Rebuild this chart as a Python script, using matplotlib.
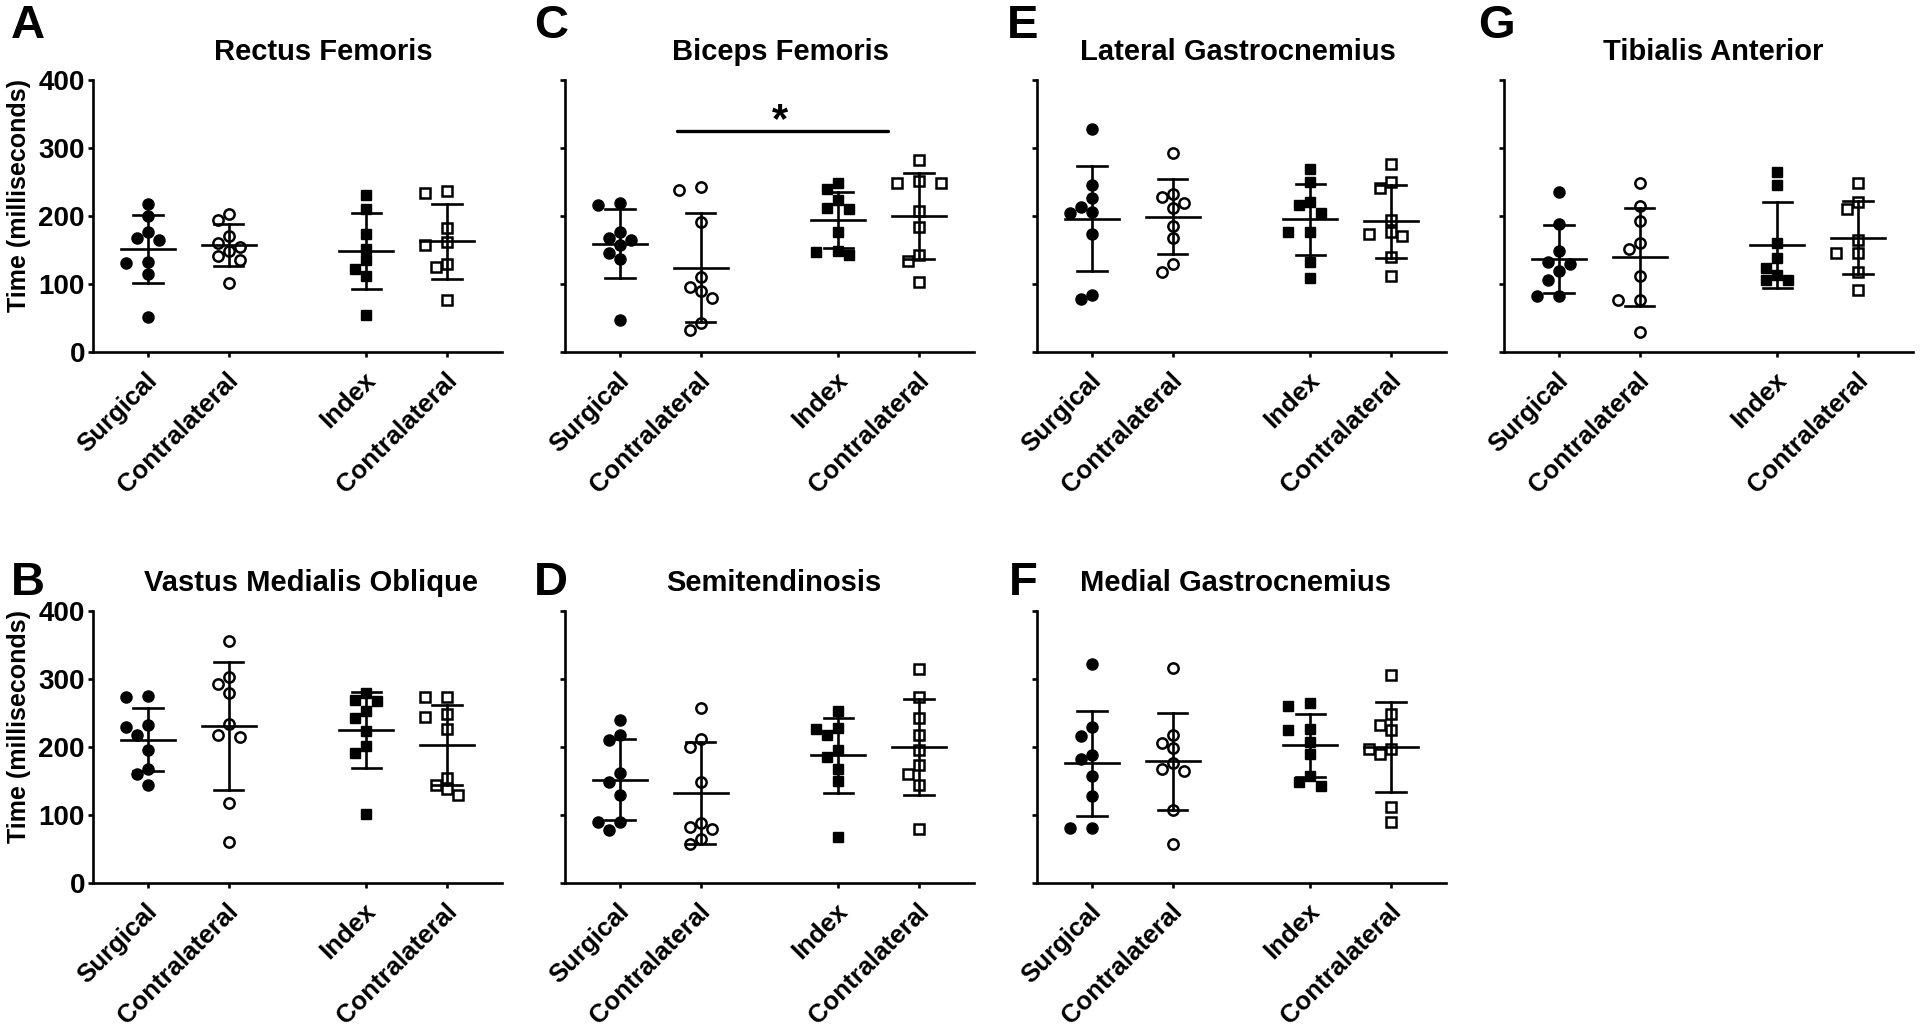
import numpy as np
import matplotlib
matplotlib.use('Agg')
import matplotlib.pyplot as plt
import matplotlib.transforms as mtransforms

plt.rcParams['font.family'] = ['Liberation Sans', 'DejaVu Sans']
plt.rcParams['font.weight'] = 'bold'

################################################
# data (milliseconds)
################################################
groups = ["Surgical", "Contralateral", "Index", "Contralateral"]

# A - Rectus Femoris
rf_surgical = [218, 200, 176, 165, 167, 131, 133, 114, 52]
rf_contra = [203, 194, 170, 160, 149, 155, 136, 141, 101]
rf_index = [231, 211, 174, 152, 135, 122, 112, 55]
rf_index_contra = [234, 237, 183, 162, 158, 130, 125, 77]
rf_mean = [151, 157, 149, 163]
rf_sd = [50, 31, 56, 55]

# B - Vastus Medialis Oblique
vmo_surgical = [273, 275, 232, 229, 217, 195, 168, 160, 144]
vmo_contra = [356, 292, 303, 280, 234, 214, 218, 118, 61]
vmo_index = [280, 269, 253, 267, 242, 224, 201, 191, 101]
vmo_index_contra = [274, 273, 248, 244, 226, 155, 144, 138, 130]
vmo_mean = [211, 231, 225, 203]
vmo_sd = [46.5, 93.5, 56.5, 58.5]

# C - Biceps Femoris
bf_surgical = [219, 216, 176, 167, 164, 157, 146, 137, 47]
bf_contra = [238, 242, 191, 111, 95, 89, 80, 42, 32]
bf_index = [249, 239, 223, 211, 212, 177, 143, 147, 148]
bf_index_contra = [283, 249, 248, 252, 207, 184, 143, 134, 103]
bf_mean = [159.5, 124, 194, 200]
bf_sd = [51, 80, 41.5, 63]

# D - Semitendinosis
st_surgical = [240, 217, 210, 162, 148, 130, 89, 89, 78]
st_contra = [257, 212, 200, 149, 88, 82, 80, 64, 58]
st_index = [253, 226, 228, 217, 195, 185, 167, 150, 68]
st_index_contra = [314, 274, 242, 217, 196, 173, 161, 144, 80]
st_mean = [152, 132.5, 188, 200]
st_sd = [60, 74.5, 55, 71]

# E - Lateral Gastrocnemius
lg_surgical = [328, 245, 226, 213, 205, 206, 173, 84, 78]
lg_contra = [293, 228, 233, 212, 219, 185, 168, 130, 118]
lg_index = [269, 250, 221, 216, 205, 177, 177, 133, 109]
lg_index_contra = [277, 250, 241, 194, 177, 173, 170, 139, 112]
lg_mean = [196, 199, 195, 192]
lg_sd = [77.5, 55, 52.5, 54]

# F - Medial Gastrocnemius
mg_surgical = [322, 230, 216, 188, 183, 157, 128, 81, 81]
mg_contra = [316, 217, 206, 198, 177, 164, 168, 107, 58]
mg_index = [260, 264, 225, 226, 208, 189, 158, 142, 148]
mg_index_contra = [306, 248, 232, 225, 197, 197, 189, 112, 90]
mg_mean = [176, 179, 202.5, 200]
mg_sd = [77, 71.5, 46, 66]

# G - Tibialis Anterior
ta_surgical = [236, 188, 148, 129, 133, 119, 106, 83, 83]
ta_contra = [248, 215, 192, 152, 160, 112, 77, 77, 30]
ta_index = [264, 245, 160, 138, 124, 113, 106, 106]
ta_index_contra = [248, 220, 210, 164, 146, 146, 117, 91]
ta_mean = [137, 140, 157, 168]
ta_sd = [50, 72, 63.5, 53.5]

# significance bar in Biceps Femoris panel
bf_sig_text = "*"

################################################
# layout (pixels of the 1920x1027 output)
################################################
W, H = 1920, 1027
fig = plt.figure(figsize=(W / 100, H / 100), dpi=100)

col_left = [93, 565, 1037, 1504]
ax_w = 409
row_top = [80, 611]
ax_h = 272

xpos = [1, 2, 3.7, 4.7]
xlim = (0.32, 5.38)
ylim = (0, 400)
px_per_x = ax_w / (xlim[1] - xlim[0])
px_per_y = ax_h / (ylim[1] - ylim[0])

markers = [
    dict(marker='o', markersize=8.0, markerfacecolor='black', markeredgecolor='black', markeredgewidth=1),
    dict(marker='o', markersize=7.4, markerfacecolor='none', markeredgecolor='black', markeredgewidth=1.8),
    dict(marker='s', markersize=7.8, markerfacecolor='black', markeredgecolor='black', markeredgewidth=1),
    dict(marker='s', markersize=7.4, markerfacecolor='none', markeredgecolor='black', markeredgewidth=1.8),
]


def swarm_offsets(vals, step_px=11.0, min_px=11.5):
    # simple beeswarm, like the column scatter of prism
    vals = np.asarray(vals, dtype=float)
    order = np.argsort(-vals, kind='stable')
    placed = []
    offs = np.zeros(len(vals))
    cand = [0, -1, 1, -2, 2, -3, 3, -4, 4]
    for i in order:
        y = vals[i] * px_per_y
        x = 0.0
        for c in cand:
            x = c * step_px
            if all((x - px) ** 2 + (y - py) ** 2 >= min_px ** 2 for px, py in placed):
                break
        placed.append((x, y))
        offs[i] = x / px_per_x
    return offs


panels = [
    ("A", "Rectus Femoris", 0, 0, [rf_surgical, rf_contra, rf_index, rf_index_contra], rf_mean, rf_sd),
    ("B", "Vastus Medialis Oblique", 0, 1, [vmo_surgical, vmo_contra, vmo_index, vmo_index_contra], vmo_mean, vmo_sd),
    ("C", "Biceps Femoris", 1, 0, [bf_surgical, bf_contra, bf_index, bf_index_contra], bf_mean, bf_sd),
    ("D", "Semitendinosis", 1, 1, [st_surgical, st_contra, st_index, st_index_contra], st_mean, st_sd),
    ("E", "Lateral Gastrocnemius", 2, 0, [lg_surgical, lg_contra, lg_index, lg_index_contra], lg_mean, lg_sd),
    ("F", "Medial Gastrocnemius", 2, 1, [mg_surgical, mg_contra, mg_index, mg_index_contra], mg_mean, mg_sd),
    ("G", "Tibialis Anterior", 3, 0, [ta_surgical, ta_contra, ta_index, ta_index_contra], ta_mean, ta_sd),
]

# title centres / letter centres in pixels
title_x = {"A": 323, "B": 311, "C": 780, "D": 774, "E": 1238, "F": 1235, "G": 1713}
title_y = [52, 583]
letter_x = {"A": 28, "B": 28, "C": 551, "D": 551, "E": 1023, "F": 1023, "G": 1496}
letter_y = [26, 583]

lw = 1.9
mean_half = 0.334
cap_half = 0.18

# nudge rotated x labels a little to the right, like prism does
label_shift = mtransforms.ScaledTranslation(6 / 100, 0, fig.dpi_scale_trans)

for letter, title, col, row, data, means, sds in panels:
    left = col_left[col]
    top = row_top[row]
    ax = fig.add_axes([left / W, 1 - (top + ax_h) / H, ax_w / W, ax_h / H])

    for k, vals in enumerate(data):
        offs = swarm_offsets(vals)
        ax.plot(xpos[k] + offs, vals, linestyle='none', clip_on=False, zorder=2, **markers[k])
        m, s = means[k], sds[k]
        x0 = xpos[k]
        ax.plot([x0 - mean_half, x0 + mean_half], [m, m], color='black', lw=lw, zorder=3)
        ax.plot([x0, x0], [m - s, m + s], color='black', lw=lw, zorder=3)
        ax.plot([x0 - cap_half, x0 + cap_half], [m + s, m + s], color='black', lw=lw, zorder=3)
        ax.plot([x0 - cap_half, x0 + cap_half], [m - s, m - s], color='black', lw=lw, zorder=3)

    ax.set_xlim(*xlim)
    ax.set_ylim(*ylim)
    ax.spines['top'].set_visible(False)
    ax.spines['right'].set_visible(False)
    for sp in ['left', 'bottom']:
        ax.spines[sp].set_linewidth(lw)
    ax.set_yticks([0, 100, 200, 300, 400])
    ax.set_xticks(xpos)
    ax.tick_params(axis='both', direction='out', length=3.8, width=lw, color='black')
    ax.tick_params(axis='y', labelsize=20, pad=2)
    ax.tick_params(axis='x', pad=14)
    ax.set_xticklabels(groups, rotation=45, ha='right', va='center',
                       rotation_mode='anchor', fontsize=18.5, fontweight='bold')
    for t in ax.get_xticklabels():
        t.set_transform(t.get_transform() + label_shift)
    if col == 0:
        for t in ax.get_yticklabels():
            t.set_fontweight('bold')
        ax.set_ylabel("Time (milliseconds)", fontsize=18, fontweight='bold')
        ax.yaxis.set_label_coords((31 - left) / ax_w, 0.577)
    else:
        ax.set_yticklabels([])

    fig.text(title_x[letter] / W, 1 - title_y[row] / H, title, ha='center', va='center',
             fontsize=21, fontweight='bold')
    fig.text(letter_x[letter] / W, 1 - letter_y[row] / H, letter, ha='center', va='center',
             fontsize=34, fontweight='bold')

    if letter == "C":
        ax.plot([1.71, 4.31], [325, 325], color='black', lw=2.4, solid_capstyle='round')
        ax.text(2.98, 310, bf_sig_text, ha='center', va='bottom', fontsize=30, fontweight='bold')

fig.savefig("out.png", dpi=100)
